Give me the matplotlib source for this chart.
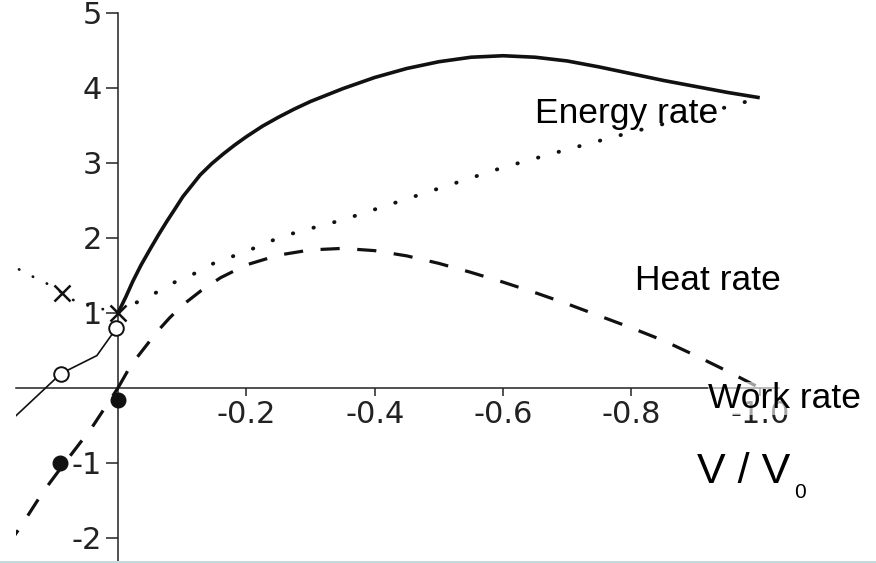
import matplotlib
matplotlib.use("Agg")
import matplotlib.pyplot as plt
from matplotlib.patches import Rectangle

# ---- data ----
energy_x = [0, -0.012, -0.023, -0.036, -0.05, -0.063, -0.076, -0.089, -0.101, -0.115, -0.128,
            -0.146, -0.164, -0.182, -0.2, -0.225, -0.25, -0.275, -0.3, -0.35, -0.4,
            -0.45, -0.5, -0.55, -0.6, -0.65, -0.7, -0.75, -0.8, -0.85, -0.9, -0.95, -1.0]
energy_y = [1.0, 1.21, 1.42, 1.64, 1.85, 2.04, 2.22, 2.39, 2.55, 2.70, 2.84,
            2.99, 3.12, 3.24, 3.35, 3.49, 3.61, 3.72, 3.82, 3.99, 4.14,
            4.26, 4.35, 4.41, 4.43, 4.41, 4.36, 4.28, 4.19, 4.10, 4.02, 3.94, 3.87]

heat_x = [0, -0.022, -0.053, -0.086, -0.118, -0.151, -0.184, -0.217, -0.25, -0.28, -0.35, -0.4,
          -0.45, -0.5, -0.55, -0.6, -0.7, -0.8, -0.9, -0.98]
heat_y = [1.0, 1.11, 1.24, 1.4, 1.52, 1.67, 1.77, 1.88, 2.0, 2.08, 2.24, 2.38,
          2.52, 2.66, 2.8, 2.94, 3.18, 3.41, 3.63, 3.82]

heat_left_x = [0, 0.062, 0.106, 0.132, 0.17]
heat_left_y = [1.0, 1.13, 1.37, 1.48, 1.65]

work_x = [0, -0.02, -0.04, -0.06, -0.08, -0.1, -0.13, -0.16, -0.2, -0.25, -0.3, -0.35, -0.4,
          -0.45, -0.5, -0.55, -0.6, -0.65, -0.7, -0.75, -0.8, -0.85, -0.9, -0.95, -1.0]
work_y = [0, 0.3, 0.52, 0.74, 0.93, 1.1, 1.3, 1.47, 1.64, 1.77, 1.84, 1.86, 1.83,
          1.76, 1.66, 1.54, 1.41, 1.27, 1.12, 0.96, 0.8, 0.63, 0.43, 0.22, 0.0]

work_left_x = [0, 0.04, 0.09, 0.117, 0.15, 0.18]
work_left_y = [0, -0.52, -1.08, -1.39, -1.83, -2.2]

thin_x = [0.17, 0.089, 0.033, 0.003]
thin_y = [-0.46, 0.19, 0.43, 0.79]

open_x = [0.089, 0.003]
open_y = [0.19, 0.80]
filled_x = [0.09, 0.0]
filled_y = [-1.0, -0.16]
cross_x = [0.087, 0.0]
cross_y = [1.27, 1.0]

xticks = [-0.2, -0.4, -0.6, -0.8, -1.0]
xtick_labels = ["-0.2", "-0.4", "-0.6", "-0.8", "-1.0"]
yticks = [-2, -1, 1, 2, 3, 4, 5]
ytick_labels = ["-2", "-1", "1", "2", "3", "4", "5"]

# ---- figure ----
W, H = 876, 563
fig = plt.figure(figsize=(W / 100, H / 100), dpi=100)
ax = fig.add_axes([16 / W, 2 / H, (779 - 16) / W, (561 - 13) / H])
ax.set_xlim(0.159, -1.03)
ax.set_ylim(-2.31, 5.0)

ink = "#111111"
ax.plot(energy_x, energy_y, color=ink, lw=2.6, solid_capstyle="butt",
        solid_joinstyle="round", zorder=4)
ax.plot(heat_x, heat_y, color=ink, lw=2.8, linestyle=(0, (0.1, 5.4)),
        dash_capstyle="round", zorder=4)
ax.plot(heat_left_x, heat_left_y, color=ink, lw=2.0, linestyle=(0, (0.1, 5.5)),
        dash_capstyle="round", zorder=4)
ax.plot(work_x, work_y, color=ink, lw=2.3, linestyle=(0, (6, 5.5)),
        dash_capstyle="butt", zorder=4)
ax.plot(work_left_x, work_left_y, color=ink, lw=2.3, linestyle=(3, (6, 5.5)),
        dash_capstyle="butt", zorder=4)
ax.plot(thin_x, thin_y, color=ink, lw=1.2, zorder=4)
ax.plot(open_x, open_y, linestyle="none", marker="o", ms=10.5, mfc="white",
        mec=ink, mew=1.4, zorder=5)
ax.plot(filled_x, filled_y, linestyle="none", marker="o", ms=10.5, mfc=ink,
        mec=ink, zorder=5)
ax.plot(cross_x, cross_y, linestyle="none", marker="x", ms=11, mec=ink,
        mew=1.8, zorder=5)

# spines through origin
for s in ["top", "right"]:
    ax.spines[s].set_visible(False)
ax.spines["left"].set_position(("data", 0))
ax.spines["bottom"].set_position(("data", 0))
ax.spines["left"].set_linewidth(1.1)
ax.spines["bottom"].set_linewidth(1.1)
ax.spines["left"].set_color("#222222")
ax.spines["bottom"].set_color("#222222")

ax.set_xticks(xticks)
ax.set_xticklabels(xtick_labels)
ax.set_yticks(yticks)
ax.set_yticklabels(ytick_labels)
ax.tick_params(axis="x", direction="out", length=6, width=1.1, pad=3,
               labelsize=22, colors="#222222")
ax.tick_params(axis="y", direction="out", length=8.5, width=1.1, pad=3,
               labelsize=22, colors="#222222")
for lab in ax.get_xticklabels() + ax.get_yticklabels():
    lab.set_family("DejaVu Sans")
ax.patch.set_visible(False)

# annotations (figure pixel coordinates)
def ftext(px, py, s, size, **kw):
    return fig.text(px / W, 1 - py / H, s, fontsize=size, family="Liberation Sans",
                    color="black", va="baseline", ha="left", **kw)

ftext(535, 123, "Energy rate", 25.5, zorder=3)
ftext(635, 290, "Heat rate", 25.5, zorder=3)
ftext(708, 408, "Work rate", 25.5, zorder=3,
      bbox=dict(facecolor="white", edgecolor="none", alpha=0.6, pad=0))
ftext(697, 483, "V / V", 31)
ftext(794, 498, "0", 15)

fig.add_artist(Rectangle((0, 0), 1, 2.5 / H, transform=fig.transFigure,
                         facecolor="#b7e0e4", edgecolor="none"))

fig.savefig("out.png", dpi=100)
